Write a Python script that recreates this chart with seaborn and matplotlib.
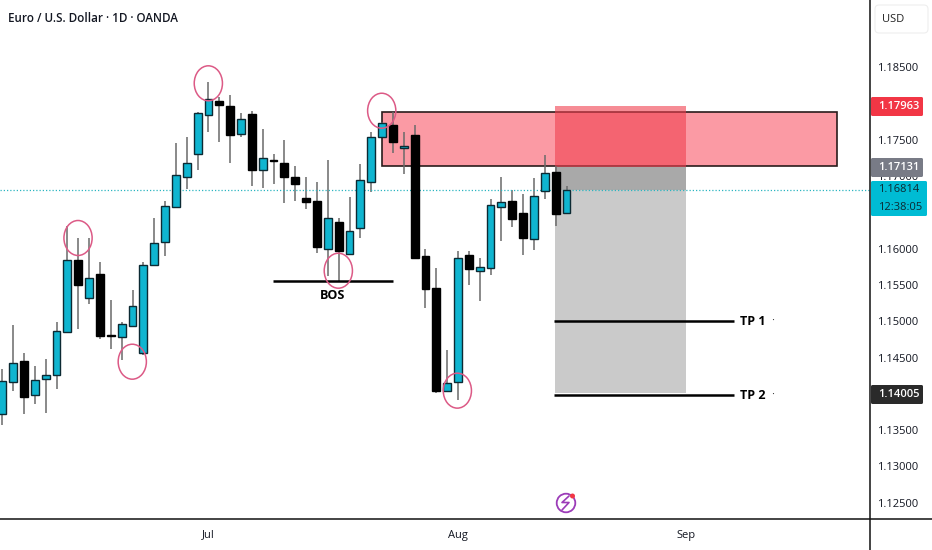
import matplotlib
matplotlib.use('Agg')
import matplotlib.pyplot as plt
from matplotlib.lines import Line2D
from matplotlib.patches import Circle, Ellipse, FancyBboxPatch, Rectangle
from matplotlib.transforms import IdentityTransform
import pandas as pd
import seaborn as sns

# daily candles
opens = [1.13718, 1.14159, 1.14448, 1.13989, 1.14205, 1.14255, 1.14848, 1.15840, 1.15316, 1.15652,
         1.14806, 1.14783, 1.14930, 1.14567, 1.15771, 1.16097, 1.16570, 1.16988, 1.17305, 1.17843,
         1.18031, 1.17967, 1.17586, 1.17861, 1.17085, 1.17218, 1.17186, 1.16984, 1.16704, 1.16654,
         1.15992, 1.16369, 1.15928, 1.16291, 1.16916, 1.17540, 1.17706, 1.17384, 1.17563, 1.15900,
         1.15464, 1.14044, 1.14159, 1.15919, 1.15689, 1.15740, 1.16571, 1.16654, 1.16498, 1.16130,
         1.16792, 1.17063, 1.16488]
highs = [1.14338, 1.14944, 1.14567, 1.14384, 1.14480, 1.14995, 1.16313, 1.16143, 1.16152, 1.15812,
         1.15293, 1.14995, 1.15431, 1.15812, 1.16419, 1.16653, 1.17452, 1.17544, 1.17889, 1.18293,
         1.18086, 1.18114, 1.17875, 1.17903, 1.17655, 1.17301, 1.17498, 1.17140, 1.16985, 1.16920,
         1.17223, 1.16420, 1.16718, 1.17168, 1.17609, 1.17752, 1.17885, 1.17609, 1.17701, 1.15997,
         1.15730, 1.14605, 1.15965, 1.15965, 1.15868, 1.16686, 1.16985, 1.16810, 1.16750, 1.16971,
         1.17297, 1.17140, 1.16865]
lows = [1.13571, 1.14044, 1.13722, 1.13860, 1.13731, 1.14062, 1.14848, 1.14894, 1.15234, 1.14751,
        1.14613, 1.14466, 1.14926, 1.14531, 1.15762, 1.15904, 1.16557, 1.16819, 1.17085, 1.17613,
        1.17475, 1.17177, 1.17535, 1.16864, 1.16832, 1.16897, 1.16626, 1.16662, 1.16548, 1.15937,
        1.15625, 1.15547, 1.15928, 1.16144, 1.16787, 1.17540, 1.17315, 1.17035, 1.15864, 1.15184,
        1.14017, 1.14031, 1.13916, 1.15501, 1.15285, 1.15639, 1.16112, 1.16295, 1.15910, 1.15983,
        1.16691, 1.16314, 1.16479]
closes = [1.14177, 1.14430, 1.13952, 1.14191, 1.14255, 1.14866, 1.15840, 1.15500, 1.15601, 1.14797,
          1.14793, 1.14963, 1.15211, 1.15776, 1.16074, 1.16589, 1.17011, 1.17186, 1.17875, 1.18059,
          1.17976, 1.17567, 1.17783, 1.17085, 1.17246, 1.17209, 1.16988, 1.16897, 1.16645, 1.16020,
          1.16420, 1.15969, 1.16240, 1.16948, 1.17545, 1.17733, 1.17476, 1.17421, 1.15877, 1.15441,
          1.14044, 1.14145, 1.15868, 1.15721, 1.15744, 1.16603, 1.16640, 1.16410, 1.16144, 1.16732,
          1.17044, 1.16475, 1.16805]

# 1.18 and 1.14 sit fully under their price tags, so they get no label
y_ticks = [1.125, 1.13, 1.135, 1.145, 1.15, 1.155, 1.16, 1.165, 1.17, 1.175, 1.185]
month_pos = [19, 42, 63]
month_labels = ['Jul', 'Aug', 'Sep']

last_price = 1.16814
zone_top, zone_bottom = 1.17885, 1.17140
stop_price, entry_price = 1.17963, 1.17131
tp1_price, tp2_price = 1.15000, 1.13980

# hand drawn circles: candle index, price
circle_idx = [6.98, 11.98, 18.99, 34.97, 30.97, 41.94]
circle_price = [1.16148, 1.14443, 1.18280, 1.17902, 1.15697, 1.14044]

TEAL = '#0fb5d0'
FONT = 'Open Sans'

sns.set_theme(style='white')
plt.rcParams['font.family'] = [FONT, 'DejaVu Sans']

df = pd.DataFrame({'idx': range(len(opens)), 'open': opens, 'high': highs, 'low': lows, 'close': closes})
df['base'] = df[['open', 'close']].min(axis=1)
df['size'] = (df['close'] - df['open']).abs().clip(lower=0.00014)
df['up'] = df['close'] >= df['open']

fig = plt.figure(figsize=(9.32, 5.5), dpi=100)
ax = fig.add_axes([0, 31.5 / 550, 870.3 / 932, 518.5 / 550])

# zone and position boxes go under the candles
ax.add_patch(Rectangle((35.04, zone_bottom), 76.93 - 35.04, zone_top - zone_bottom, fc='#fb9aa4', ec='#2a1c1c', lw=1.2, zorder=1))
ax.add_patch(Rectangle((50.94, entry_price), 12.06, stop_price - entry_price, fc='#f0404f', ec='none', alpha=0.6, zorder=1.2))
ax.add_patch(Rectangle((50.94, last_price), 12.06, entry_price - last_price, fc='#a9a9a9', ec='none', zorder=1.2))
ax.add_patch(Rectangle((50.94, 1.14005), 12.06, last_price - 1.14005, fc='#cacaca', ec='none', zorder=1.2))

ax.vlines(df['idx'], df['low'], df['high'], color='#6a6a6a', lw=1.1, zorder=2)

for is_up, color in [(True, TEAL), (False, '#000000')]:
    sub = df[df['up'] == is_up]
    sns.barplot(data=sub, x='idx', y='size', bottom=sub['base'].values, native_scale=True, errorbar=None,
                color=color, saturation=1, width=0.72, edgecolor='#0c2a33' if is_up else '#000000',
                linewidth=1.0, zorder=3, ax=ax)

ax.axhline(last_price, color='#2bb5c0', lw=0.9, ls=(0, (1, 1.6)), zorder=2.5)

ax.hlines([tp1_price, tp2_price], 50.85, 67.44, color='black', lw=1.8, zorder=4)
ax.hlines(1.15551, 24.95, 36.0, color='black', lw=1.8, zorder=4)
for cx, cy in zip(circle_idx, circle_price):
    ax.add_patch(Ellipse((cx, cy), 2.6, 0.00482, fc='none', ec='#dc5a86', lw=1.1, zorder=5))

ax.text(30.4, 1.15362, 'BOS', fontsize=9, fontweight='bold', color='black', ha='center', va='center', zorder=5)
ax.text(68.0, tp1_price, 'TP 1', fontsize=9, fontweight='bold', color='black', va='center', zorder=5)
ax.text(68.0, tp2_price, 'TP 2', fontsize=9, fontweight='bold', color='black', va='center', zorder=5)
ax.text(70.9, tp1_price, '·', fontsize=8, color='#333333', va='center', zorder=5)
ax.text(70.9, tp2_price, '·', fontsize=8, color='#333333', va='center', zorder=5)

ax.set_xlim(-0.212, 80.0)
ax.set_ylim(1.12282, 1.19428)
ax.yaxis.tick_right()
ax.set_yticks(y_ticks)
ax.set_yticklabels([f'{v:.5f}' for v in y_ticks], fontsize=8, color='#131722')
ax.set_xticks(month_pos)
ax.set_xticklabels(month_labels, fontsize=8, color='#131722')
ax.tick_params(axis='both', length=0)
ax.tick_params(axis='y', pad=5)
ax.tick_params(axis='x', pad=8)
ax.set_xlabel('')
ax.set_ylabel('')
ax.grid(False)
for name, spine in ax.spines.items():
    spine.set_visible(False)

# axis frame runs to the edges of the picture
fig.add_artist(Line2D([0, 1], [31.5 / 550] * 2, color='#111111', lw=1.1, transform=fig.transFigure))
fig.add_artist(Line2D([870.3 / 932] * 2, [0, 1], color='#111111', lw=1.1, transform=fig.transFigure))


def price_tag(lines, top, bottom, right, color, text_color, weight='normal'):
    fig.add_artist(FancyBboxPatch((871, 550 - bottom), right - 871, bottom - top, boxstyle='round,pad=0,rounding_size=1.5',
                                  fc=color, ec='none', transform=IdentityTransform(), zorder=6))
    step = (bottom - top) / len(lines)
    for i, line in enumerate(lines):
        fig.text(878 / 932, (550 - top - step * (i + 0.5)) / 550, line, fontsize=8, color=text_color,
                 fontweight=weight, va='center', ha='left', zorder=7)


price_tag(['1.17963'], 97, 116, 923, '#f23645', 'white', 'semibold')
price_tag(['1.17131'], 158, 177, 923, '#787b86', 'white', 'semibold')
price_tag(['1.16814', '12:38:05'], 181, 216, 927, '#00bcd4', '#0c2a33')
price_tag(['1.14005'], 385, 404, 923, '#2a2a2a', 'white', 'semibold')

fig.add_artist(FancyBboxPatch((875, 550 - 33), 53, 28, boxstyle='round,pad=0,rounding_size=4', fc='white', ec='#eeeeee',
                              lw=0.8, transform=IdentityTransform(), zorder=6))
fig.text(882 / 932, (550 - 20) / 550, 'USD', fontsize=8, color='#222222', va='center', ha='left', zorder=7)

fig.text(8 / 932, (550 - 19) / 550, 'Euro / U.S. Dollar · 1D · OANDA', fontsize=8.4, fontweight='semibold', color='#131722',
         va='center', ha='left')

# flash icon near the bottom edge
fig.add_artist(Circle((566, 47), 9.3, fc='white', ec='#9c3cb8', lw=1.3, transform=IdentityTransform(), zorder=6))
fig.add_artist(Line2D([569, 562, 569, 562], [54, 47.5, 47.5, 40], color='#9c3cb8', lw=1.2, transform=IdentityTransform(), zorder=7))
fig.add_artist(Circle((572.5, 54), 2.5, fc='#f23645', ec='none', transform=IdentityTransform(), zorder=7))

fig.savefig('out.png', dpi=100, facecolor='white')
